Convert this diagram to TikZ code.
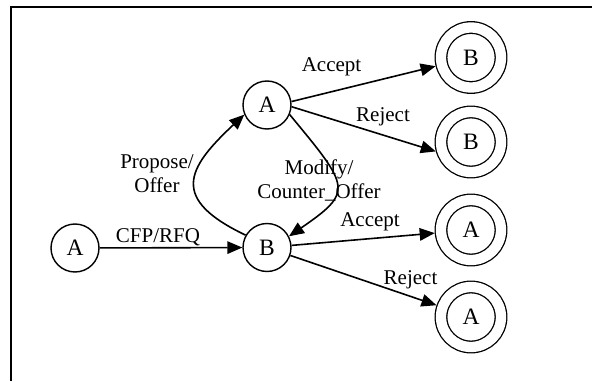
\documentclass[tikz,border=0pt]{standalone}
\usepackage{fontspec}
\setmainfont{Liberation Serif}
\usetikzlibrary{arrows.meta}

\begin{document}
\begin{tikzpicture}[x=1pt,y=1pt,
  state/.style={circle, draw, line width=1.4pt, minimum size=48pt, inner sep=0pt,
    font=\fontsize{23.5}{25}\selectfont},
  final/.style={circle, draw, line width=1.3pt, double, double distance=10.3pt,
    minimum size=60pt, inner sep=0pt, outer sep=6.45pt,
    font=\fontsize{23.5}{25}\selectfont},
  edge/.style={line width=1.6pt, -{Triangle[length=15pt,width=12.5pt]}},
  lbl/.style={font=\fontsize{21}{24}\selectfont, inner sep=0pt, align=center}]

\useasboundingbox (0,0) rectangle (592,381);

% frame
\draw[line width=2pt] (11,0) -- (11,373.5) -- (592,373.5);

% states
\node[state] (a0) at (75,133) {A};
\node[state] (a1) at (267,276) {A};
\node[state] (b1) at (267,133.5) {B};
\node[final] (f1) at (471,323.5) {B};
\node[final] (f2) at (471,239) {B};
\node[final] (f3) at (471,151) {A};
\node[final] (f4) at (471,64) {A};

% transitions
\draw[edge] (a0) -- (b1);
\draw[edge] (b1.150) .. controls (170,182) and (186,212) .. (a1.203);
\draw[edge] (a1.-23) .. controls (350,193.5) and (354,189.5) .. (b1.27);
\draw[edge] (a1.8) -- (f1);
\draw[edge] (a1.-4) -- (f2.195);
\draw[edge] (b1) -- (f3);
\draw[edge] (b1) -- (f4);

% labels
\node[lbl] (lcfp) at (158,144) {CFP/RFQ};
\node[lbl] (lprop) at (157,207) {Propose/\\Offer};
\node[lbl] (lmod) at (319,201) {Modify/\\Counter\_Offer};
\node[lbl] (lacc1) at (331.5,314) {Accept};
\node[lbl] (lrej1) at (383,264) {Reject};
\node[lbl] (lacc2) at (370,159) {Accept};
\node[lbl] (lrej2) at (410.5,101) {Reject};
\end{tikzpicture}
\end{document}
